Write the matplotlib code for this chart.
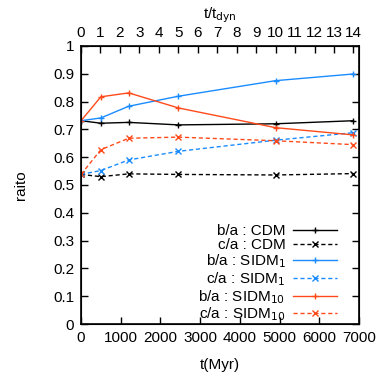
import matplotlib.pyplot as plt

plt.rcParams['font.family'] = ['Liberation Sans', 'DejaVu Sans']

t_dyn = 490.0
t_myr = [0, 500, 1200, 2450, 4900, 6860]

ba_cdm = [0.731, 0.722, 0.725, 0.716, 0.720, 0.731]
ca_cdm = [0.538, 0.530, 0.540, 0.538, 0.536, 0.541]
ba_sidm1 = [0.731, 0.741, 0.783, 0.819, 0.875, 0.899]
ca_sidm1 = [0.538, 0.552, 0.590, 0.621, 0.661, 0.688]
ba_sidm10 = [0.731, 0.817, 0.831, 0.777, 0.706, 0.680]
ca_sidm10 = [0.538, 0.627, 0.668, 0.672, 0.659, 0.645]

top_ticks = list(range(0, 15))

black = '#000000'
blue = '#1a8cff'
red = '#ff4a1a'

fig = plt.figure(figsize=(3.84, 3.76), dpi=100)
ax = fig.add_axes([0.211, 0.138, 0.724, 0.740])

kw = dict(lw=1.0, ms=5, mew=1.0)
kw_d = dict(lw=1.0, ms=4, mew=1.0, dashes=(3, 2))
ax.plot(t_myr, ba_cdm, color=black, ls='-', marker='+', label='b/a : CDM', **kw)
ax.plot(t_myr, ca_cdm, color=black, ls='--', marker='x', label='c/a : CDM', **kw_d)
ax.plot(t_myr, ba_sidm1, color=blue, ls='-', marker='+', label='b/a : SIDM$_1$', **kw)
ax.plot(t_myr, ca_sidm1, color=blue, ls='--', marker='x', label='c/a : SIDM$_1$', **kw_d)
ax.plot(t_myr, ba_sidm10, color=red, ls='-', marker='+', label='b/a : SIDM$_{10}$', **kw)
ax.plot(t_myr, ca_sidm10, color=red, ls='--', marker='x', label='c/a : SIDM$_{10}$', **kw_d)

ax.set_xlim(0, 7000)
ax.set_ylim(0, 1)
ax.set_xticks(range(0, 7001, 1000))
ax.set_yticks([i / 10 for i in range(11)])
ax.set_yticklabels(['0', '0.1', '0.2', '0.3', '0.4', '0.5', '0.6', '0.7', '0.8', '0.9', '1'])
ax.tick_params(direction='in', length=5, width=1, labelsize=11, right=True,
               top=False, pad=5)
ax.set_xlabel('t(Myr)', fontsize=11, labelpad=9)
ax.set_ylabel('raito', fontsize=11, labelpad=18)
for s in ax.spines.values():
    s.set_linewidth(1.2)

# top axis in units of the dynamical time
ax2 = ax.twiny()
ax2.set_xlim(0, 7000 / t_dyn)
ax2.set_xticks(top_ticks)
ax2.tick_params(direction='in', length=5, width=1, labelsize=11, pad=4)
ax2.set_xlabel('t/t$_{\\rm dyn}$', fontsize=11, labelpad=6)

ax.legend(loc='lower right', bbox_to_anchor=(0.955, -0.03), frameon=False,
          markerfirst=False, fontsize=11, handlelength=2.9, handletextpad=0.5,
          labelspacing=0.0, borderaxespad=0.2)

fig.savefig('out.png', dpi=100)
